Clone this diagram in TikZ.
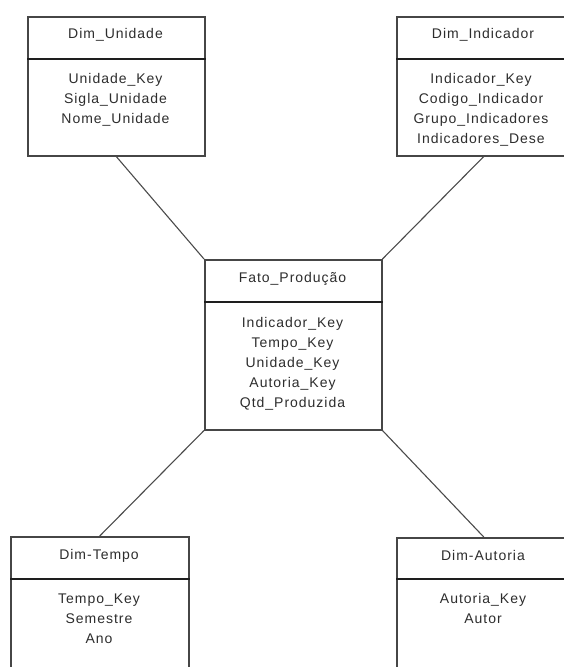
\documentclass[tikz,border=0pt]{standalone}
\usepackage{fontspec}
\setmainfont{Liberation Sans}[LetterSpace=7]
\definecolor{boxgray}{RGB}{70,70,70}
\definecolor{divgray}{RGB}{30,30,30}
\definecolor{txtgray}{RGB}{45,45,45}
\definecolor{linegray}{RGB}{75,75,75}
\begin{document}
\begin{tikzpicture}[x=1pt,y=-1pt,
  tbl/.style={draw=boxgray, line width=1.5pt, fill=white, inner sep=0pt, anchor=north west},
  lbl/.style={anchor=base, inner sep=0pt, font=\fontsize{14}{20}\selectfont, text=txtgray},
  divline/.style={draw=divgray, line width=2pt},
  conn/.style={draw=linegray, line width=1.1pt}]
\clip (0,0) rectangle (564,667);
\fill[white] (0,0) rectangle (564,667);
% tables
\node[tbl, minimum width=177pt, minimum height=139pt] (unid) at (27,16) {};
\node[tbl, minimum width=174pt, minimum height=139pt] (ind) at (396,16) {};
\node[tbl, minimum width=177pt, minimum height=170pt] (fato) at (204,259) {};
\node[tbl, minimum width=178pt, minimum height=200pt] (tempo) at (10,536) {};
\node[tbl, minimum width=174pt, minimum height=200pt] (aut) at (396,537) {};
% connectors
\draw[conn] (unid.south) -- (fato.north west);
\draw[conn] (ind.south) -- (fato.north east);
\draw[conn] (fato.south west) -- (tempo.north);
\draw[conn] (fato.south east) -- (aut.north);
% dividers
\draw[divline] ([yshift=-43pt]unid.north west) -- ([yshift=-43pt]unid.north east);
\draw[divline] ([yshift=-43pt]ind.north west) -- ([yshift=-43pt]ind.north east);
\draw[divline] ([yshift=-43pt]fato.north west) -- ([yshift=-43pt]fato.north east);
\draw[divline] ([yshift=-43pt]tempo.north west) -- ([yshift=-43pt]tempo.north east);
\draw[divline] ([yshift=-42pt]aut.north west) -- ([yshift=-42pt]aut.north east);
% headers
\node[lbl] (unid-h) at (115.5,38) {Dim\_Unidade};
\node[lbl] (ind-h) at (483,38) {Dim\_Indicador};
\node[lbl] (fato-h) at (292.5,282) {Fato\_Produção};
\node[lbl] (tempo-h) at (99,559) {Dim-Tempo};
\node[lbl] (aut-h) at (483,560) {Dim-Autoria};
% bodies
\foreach \t [count=\i] in {Unidade\_Key, Sigla\_Unidade, Nome\_Unidade}
  \node[lbl] (unid-b\i) at (115.5,{83+20*(\i-1)}) {\t};
\foreach \t [count=\i] in {Indicador\_Key, Codigo\_Indicador, Grupo\_Indicadores, Indicadores\_Dese}
  \node[lbl] (ind-b\i) at (481,{83+20*(\i-1)}) {\t};
\foreach \t [count=\i] in {Indicador\_Key, Tempo\_Key, Unidade\_Key, Autoria\_Key, Qtd\_Produzida}
  \node[lbl] (fato-b\i) at (292.5,{327+20*(\i-1)}) {\t};
\foreach \t [count=\i] in {Tempo\_Key, Semestre, Ano}
  \node[lbl] (tempo-b\i) at (99,{603+20*(\i-1)}) {\t};
\foreach \t [count=\i] in {Autoria\_Key, Autor}
  \node[lbl] (aut-b\i) at (483,{603+20*(\i-1)}) {\t};
\end{tikzpicture}
\end{document}
